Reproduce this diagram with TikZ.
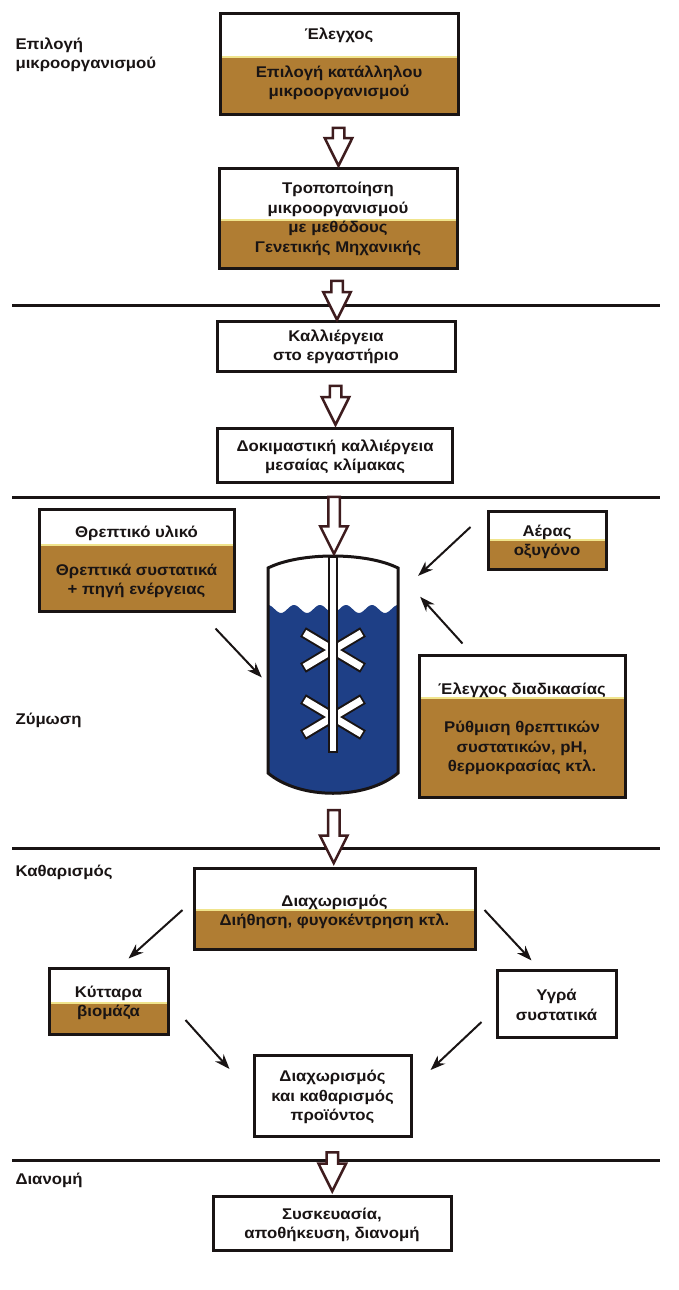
\documentclass[tikz,border=0pt]{standalone}
\usepackage{fontspec}
\setmainfont{Liberation Sans}[FakeStretch = 1.08]
\usetikzlibrary{arrows.meta,shapes.arrows}
\definecolor{ink}{RGB}{25,20,20}
\definecolor{brownfill}{RGB}{176,125,51}
\definecolor{seam}{RGB}{240,228,140}
\definecolor{liquid}{RGB}{30,63,134}
\definecolor{maroon}{RGB}{62,28,30}

\begin{document}
\begin{tikzpicture}[x = 1pt, y = -1pt,
    every node/.style = {font = \fontsize{15.5}{19.5}\selectfont\bfseries, text = ink, align = center},
    box/.style 2 args = {draw = ink, line width = 3pt, fill = white, inner sep = 0pt,
        minimum width = #1pt, minimum height = #2pt},
    brown/.style = {path picture = {
        \fill[brownfill] (path picture bounding box.south west)
            rectangle ([yshift = #1pt]path picture bounding box.south east);
        \draw[seam, line width = 2pt] ([yshift = #1pt]path picture bounding box.south west)
            -- ([yshift = #1pt]path picture bounding box.south east);}},
    blockarr/.style = {single arrow, draw = maroon, fill = white, line width = 2.5pt,
        inner sep = 4.5pt, single arrow head extend = 8pt,
        single arrow tip angle = 53, shape border rotate = 270, minimum height = #1pt},
    feedarr/.style = {draw = ink, line width = 2pt, -{Stealth[length = 15pt, width = 11pt]}},
    rule/.style = {draw = ink, line width = 3pt}]

    \useasboundingbox (0,0) rectangle (679,1290);

    \draw[rule] (12,305) -- (660,305);
    \draw[rule] (12,497) -- (660,497);
    \draw[rule] (12,848) -- (660,848);
    \draw[rule] (12,1160) -- (660,1160);

    \node[anchor = west, align = left] (lab1) at (12,55) {Επιλογή\\μικροοργανισμού};
    \node[anchor = west] (lab2) at (12,720) {Ζύμωση};
    \node[anchor = west] (lab3) at (12,872) {Καθαρισμός};
    \node[anchor = west] (lab4) at (12,1180) {Διανομή};

    \node[box = {238}{100}, brown = 57] (sel) at (339,64) {};
    \node (selT) at (339,35) {Έλεγχος};
    \node (selB) at (339,83) {Επιλογή κατάλληλου\\μικροοργανισμού};

    \node[box = {238}{100}, brown = 48] (mod) at (338,218) {};
    \node (modT) at (338,219) {Τροποποίηση\\μικροοργανισμού\\με μεθόδους\\Γενετικής Μηχανικής};

    \node[box = {238}{50}] (lab) at (336,346) {};
    \node (labT) at (336,347) {Καλλιέργεια\\στο εργαστήριο};

    \node[box = {235}{54}] (pilot) at (335,455) {};
    \node (pilotT) at (335,457) {Δοκιμαστική καλλιέργεια\\μεσαίας κλίμακας};

    \node[box = {195}{102}, brown = 66] (feed) at (136.5,560) {};
    \node (feedT) at (136.5,533) {Θρεπτικό υλικό};
    \node (feedB) at (136.5,581) {Θρεπτικά συστατικά\\+ πηγή ενέργειας};

    \node[box = {118}{58}, brown = 29] (air) at (547,540) {};
    \node (airT) at (547,542) {Αέρας\\οξυγόνο};

    \node[box = {206}{142}, brown = 99] (ctrl) at (522,726) {};
    \node (ctrlT) at (522,690) {Έλεγχος διαδικασίας};
    \node (ctrlB) at (522,748) {Ρύθμιση θρεπτικών\\συστατικών, pH,\\θερμοκρασίας κτλ.};

    \node[box = {281}{81}, brown = 39] (sep) at (334.5,908.5) {};
    \node (sepT) at (334.5,912) {Διαχωρισμός\\Διήθηση, φυγοκέντρηση κτλ.};

    \node[box = {119}{66}, brown = 31] (cells) at (108.5,1001) {};
    \node (cellsT) at (108.5,1003) {Κύτταρα\\βιομάζα};

    \node[box = {119}{67}] (liq) at (556.5,1003.5) {};
    \node (liqT) at (556.5,1005) {Υγρά\\συστατικά};

    \node[box = {157}{81}] (prod) at (332.5,1095.5) {};
    \node (prodT) at (332.5,1097) {Διαχωρισμός\\και καθαρισμός\\προϊόντος};

    \node[box = {238}{54}] (dist) at (332,1223) {};
    \node (distT) at (332,1225) {Συσκευασία,\\αποθήκευση, διανομή};

    \node[minimum width = 130pt, minimum height = 239pt, inner sep = 0pt] (ferm) at (333,675.5) {};
    \begin{scope}
        \clip (268,773) -- (268,568) .. controls (300,552) and (366,552) .. (398,568)
            -- (398,773) .. controls (366,800) and (300,800) .. (268,773) -- cycle;
        \fill[liquid] plot[domain = 268:398, samples = 80] (\x, {609 - 4*cos(13.846*(\x-268))})
            -- (398,800) -- (268,800) -- cycle;
    \end{scope}
    \draw[ink, line width = 3pt] (268,773) -- (268,568) .. controls (300,552) and (366,552) .. (398,568)
        -- (398,773) .. controls (366,800) and (300,800) .. (268,773) -- cycle;
    \foreach \y in {650,717} {
        \draw[ink, line width = 11pt] (303,\y-18) -- (363,\y+18) (303,\y+18) -- (363,\y-18);
        \draw[white, line width = 7pt] (304.5,\y-17) -- (361.5,\y+17) (304.5,\y+17) -- (361.5,\y-17);
    }
    \draw[ink, fill = white, line width = 1.2pt] (329,557) rectangle (337,752);

    \path (sel.south) -- (mod.north) node[midway, blockarr = 38] (a1) {};
    \path (mod.south) -- (lab.north) node[midway, blockarr = 39] (a2) {};
    \path (lab.south) -- (pilot.north) node[midway, blockarr = 39] (a3) {};
    \path (pilot.south) -- (ferm.north) node[midway, blockarr = 57] (a4) {};
    \path (ferm.south) -- (sep.north) node[midway, blockarr = 53] (a5) {};
    \path (prod.south) -- (dist.north) node[midway, blockarr = 39] (a6) {};

    \draw[feedarr] ([xshift = -20pt, yshift = -16pt]feed.south east) -- ([xshift = -6pt, yshift = -2pt]ferm.west);
    \draw[feedarr] ([xshift = -16pt, yshift = 13pt]air.west) -- ([xshift = 20pt, yshift = -20pt]ferm.north east);
    \draw[feedarr] ([xshift = 45pt, yshift = 10pt]ctrl.north west) -- ([xshift = 22pt, yshift = -41pt]ferm.north east);
    \draw[feedarr] ([xshift = -10pt, yshift = -1.5pt]sep.west) -- ([xshift = 20pt, yshift = 8pt]cells.north);
    \draw[feedarr] ([xshift = 8pt, yshift = -1.5pt]sep.east) -- ([xshift = -25pt, yshift = 8pt]liq.north);
    \draw[feedarr] ([xshift = 16pt, yshift = -19pt]cells.east) -- ([xshift = -23pt, yshift = 26.5pt]prod.west);
    \draw[feedarr] ([xshift = -14pt, yshift = -18.5pt]liq.west) -- ([xshift = 18pt, yshift = 25.5pt]prod.east);
\end{tikzpicture}
\end{document}
